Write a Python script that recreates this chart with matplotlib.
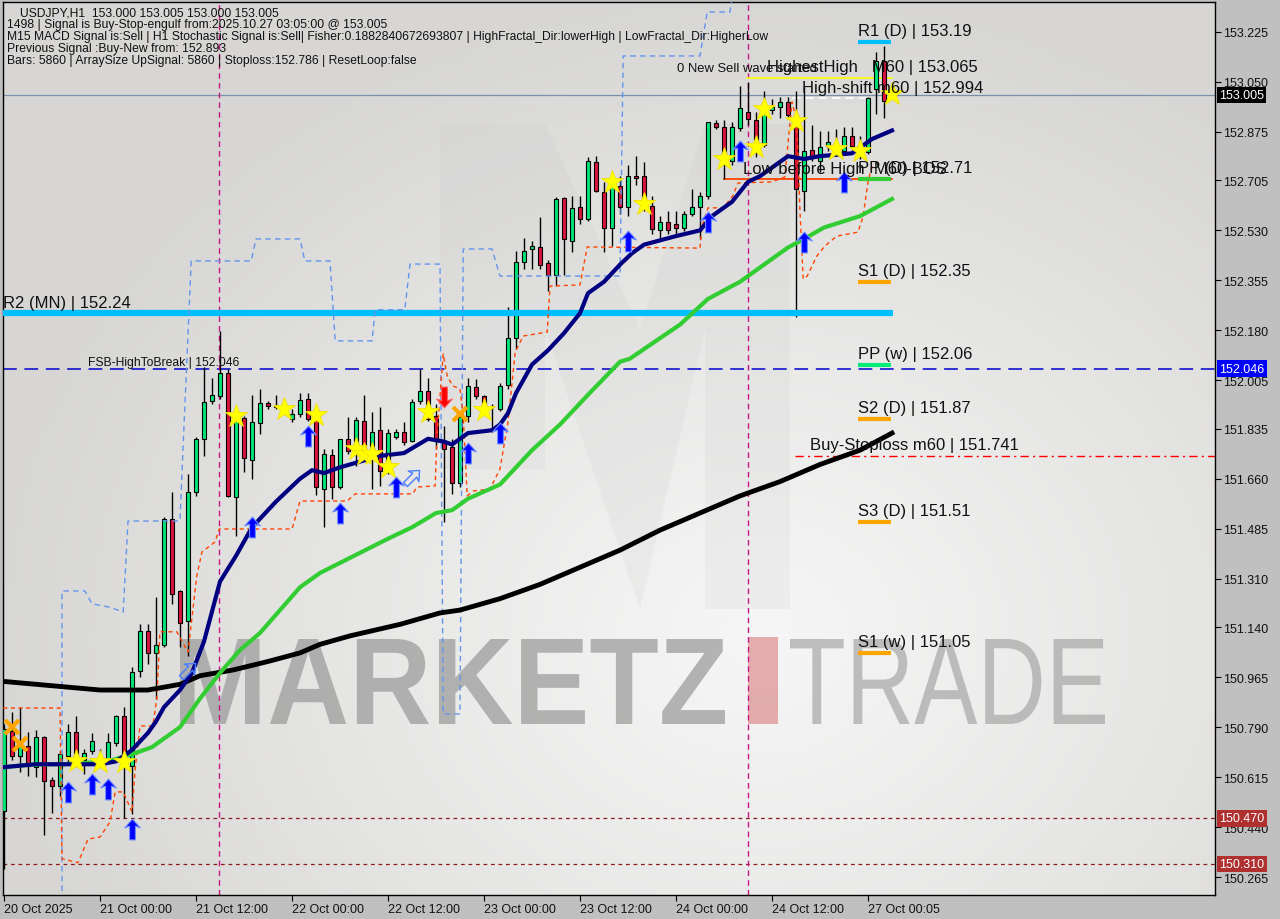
import numpy as np
import matplotlib
matplotlib.use('Agg')
import matplotlib.pyplot as plt
from matplotlib.path import Path
from matplotlib.patches import PathPatch, Rectangle, Polygon
from matplotlib.textpath import TextPath
from matplotlib.font_manager import FontProperties
from matplotlib.transforms import Affine2D, blended_transform_factory

plt.rcParams['font.family'] = ['Liberation Sans', 'DejaVu Sans']

# ---------------- data ----------------
opens = [150.497,150.777,150.689,150.724,150.651,150.756,150.605,150.584,150.689,150.773,
         150.676,150.707,150.676,150.679,150.735,150.829,150.654,150.987,151.127,151.050,
         151.078,151.519,151.267,151.162,151.614,151.800,151.933,151.950,152.031,151.596,
         151.873,151.726,151.856,151.926,151.915,151.912,151.870,151.887,151.940,151.870,
         151.624,151.743,151.631,151.800,151.757,151.863,151.747,151.831,151.698,151.807,
         151.824,151.792,151.933,151.968,151.880,151.789,151.771,151.645,151.880,151.982,
         151.950,151.912,151.905,151.989,152.153,152.419,152.465,152.472,152.416,152.374,
         152.644,152.493,152.612,152.570,152.770,152.665,152.539,152.686,152.612,152.721,
         152.721,152.616,152.532,152.560,152.553,152.539,152.588,152.612,152.651,152.906,
         152.892,152.773,152.889,152.945,152.917,152.829,152.952,152.962,152.980,152.934,
         152.668,152.812,152.773,152.826,152.815,152.808,152.861,152.808,152.805,153.025,
         153.123,153.000]
closes = [150.784,150.689,150.724,150.654,150.756,150.602,150.584,150.696,150.773,150.686,
          150.700,150.742,150.679,150.738,150.829,150.679,150.983,151.127,151.050,151.078,
          151.519,151.257,151.155,151.614,151.800,151.929,151.954,152.031,151.600,151.863,
          151.733,151.859,151.926,151.915,151.912,151.905,151.887,151.936,151.870,151.631,
          151.747,151.631,151.800,151.757,151.866,151.757,151.824,151.687,151.821,151.824,
          151.789,151.929,151.968,151.870,151.792,151.764,151.645,151.877,151.985,151.950,
          151.912,151.910,151.985,152.153,152.419,152.458,152.475,152.409,152.374,152.640,
          152.500,152.609,152.570,152.773,152.668,152.539,152.700,152.612,152.721,152.714,
          152.616,152.535,152.560,152.532,152.539,152.588,152.612,152.651,152.910,152.892,
          152.773,152.892,152.959,152.920,152.829,152.941,152.962,152.980,152.934,152.675,
          152.808,152.787,152.822,152.840,152.833,152.861,152.826,152.815,152.994,153.123,
          152.983,153.005]
highs = [150.800,150.843,150.861,150.773,150.781,150.760,150.616,150.707,150.801,150.829,
         150.714,150.770,150.714,150.770,150.832,150.861,151.001,151.152,151.152,151.246,
         151.526,151.614,151.270,151.677,151.807,152.052,152.013,152.178,152.045,151.887,
         151.880,151.954,151.975,151.933,151.954,151.940,151.905,151.960,151.960,151.877,
         151.764,151.764,151.800,151.877,151.877,151.954,151.894,151.912,151.835,151.835,
         151.859,151.940,152.045,152.013,151.922,151.845,151.800,151.887,152.013,152.010,
         151.954,151.922,151.996,152.262,152.458,152.504,152.493,152.577,152.426,152.647,
         152.647,152.651,152.651,152.787,152.791,152.700,152.710,152.721,152.759,152.791,
         152.770,152.651,152.581,152.598,152.598,152.598,152.675,152.665,152.910,152.917,
         152.917,152.910,153.036,153.050,152.945,153.018,152.990,152.997,152.997,153.018,
         153.032,152.899,152.878,152.878,152.885,152.892,152.892,152.861,152.997,153.155,
         153.176,153.005]
lows = [150.293,150.676,150.633,150.619,150.616,150.413,150.490,150.549,150.661,150.679,
        150.626,150.696,150.661,150.672,150.724,150.472,150.486,150.966,151.011,150.889,
        151.071,151.222,151.071,151.040,151.600,151.740,151.922,151.940,151.596,151.460,
        151.684,151.659,151.817,151.905,151.905,151.887,151.859,151.877,151.863,151.603,
        151.491,151.589,151.624,151.747,151.705,151.729,151.624,151.635,151.677,151.800,
        151.779,151.789,151.922,151.863,151.764,151.509,151.607,151.631,151.859,151.940,
        151.905,151.824,151.898,151.975,152.115,152.395,152.395,152.395,152.318,152.335,
        152.374,152.454,152.553,152.563,152.665,152.454,152.475,152.588,152.581,152.689,
        152.598,152.518,152.500,152.518,152.511,152.528,152.581,152.500,152.640,152.885,
        152.710,152.759,152.878,152.899,152.787,152.822,152.938,152.924,152.920,152.227,
        152.598,152.773,152.735,152.808,152.791,152.798,152.815,152.780,152.798,152.938,
        152.924,153.000]

# moving averages (bar index, price)
ma_fast_x = [0,4,8,12,14,15,16,18,19,20,22,23.5,25,27,29,31,34,37,38.5,40,42,47,50,53,55,56,58,61,62,63,64,66,68,70,72,73,75,77,78.5,80,84,87,88.5,91,93,94.5,98,100,102,106,108.5,111]
ma_fast_y = [150.65,150.66,150.66,150.66,150.67,150.69,150.71,150.77,150.81,150.86,150.92,150.98,151.09,151.30,151.39,151.49,151.58,151.66,151.69,151.68,151.70,151.74,151.75,151.80,151.79,151.78,151.82,151.83,151.85,151.89,151.96,152.06,152.11,152.17,152.24,152.31,152.35,152.41,152.45,152.48,152.51,152.53,152.58,152.63,152.70,152.72,152.79,152.78,152.79,152.80,152.85,152.88]
ma_mid_x = [0,4,7.5,13,16.5,18.5,22,24.5,27,29.5,32,37,39.5,48,51,54,56,58,62,66,69.5,73.2,77,78.2,84.5,88,92,94.5,98,100,102.5,107,111]
ma_mid_y = [150.65,150.66,150.66,150.67,150.70,150.72,150.79,150.89,150.98,151.06,151.12,151.28,151.33,151.45,151.49,151.54,151.55,151.59,151.64,151.76,151.85,151.96,152.07,152.08,152.20,152.29,152.35,152.40,152.47,152.50,152.54,152.58,152.64]
ma_slow_x = [0,4,8,12,14.5,18,22,24.5,28.6,33,37,39.5,43.3,49.5,54.5,57,62,67,72,77,82,87,92,97,102,107,111]
ma_slow_y = [150.95,150.94,150.93,150.92,150.92,150.92,150.94,150.97,150.99,151.02,151.05,151.08,151.11,151.15,151.19,151.20,151.24,151.29,151.35,151.41,151.48,151.54,151.60,151.65,151.71,151.76,151.82]

# trailing stop (orange dashed)
trail_x = [-0.1,7,7.25,9.25,10.5,12,13.25,13.9,14.9,16,16.4,17,18.6,19.1,19.5,21.6,23,24.1,24.75,26.4,26.9,36,37,42.9,43.9,51.1,51.6,53.9,54.1,54.9,55.4,56.1,57,57.4,57.9,58.6,60.75,62,63,63.9,64.9,67.9,68.25,72,72.9,87,87.25,88,89.9,91.1,91.75,96,97.6,98.5,99.1,99.5,99.9,100.4,101.6,102.6,104.1,106.75,107.4,108,108.5]
trail_y = [150.857,150.857,150.329,150.315,150.398,150.405,150.458,150.563,150.563,150.493,150.644,150.794,150.794,150.889,151.124,151.124,151.053,151.320,151.404,151.439,151.484,151.484,151.582,151.582,151.607,151.607,151.631,151.635,151.800,152.097,152.020,151.985,151.975,151.880,151.600,151.617,151.624,151.694,151.859,152.104,152.160,152.174,152.335,152.339,152.472,152.468,152.545,152.609,152.609,152.651,152.696,152.700,152.717,152.980,152.910,152.595,152.360,152.370,152.440,152.475,152.510,152.524,152.580,152.700,152.756]

# fractal channel (blue dashed)
chan_x = [7.25,7.25,10.1,11,13.25,14.9,15.5,22,22.4,23.4,30.9,31.5,37,37.6,40.75,41.4,46,46.4,50.1,50.75,54.5,54.9,57,57.4,61,62,77,77.4,87,87.9,90.75,91.1]
chan_y = [150.216,151.267,151.267,151.222,151.210,151.193,151.512,151.512,151.782,152.423,152.423,152.500,152.500,152.423,152.423,152.143,152.143,152.252,152.252,152.412,152.412,150.836,150.836,152.465,152.465,152.370,152.370,153.141,153.141,153.295,153.295,153.360]

# signals
star_x = [9,12,15,29,35,39,44,45,46,48,53,60,76,80,90,94,95,99,104,107,111]
star_y = [150.672,150.668,150.668,151.880,151.905,151.884,151.764,151.747,151.747,151.700,151.894,151.901,152.700,152.623,152.780,152.822,152.955,152.913,152.815,152.808,153.008]
up_x = [8,11,13,16,31,38,42,49,58,62,78,88,92,100,105]
up_y = [150.563,150.591,150.574,150.433,151.491,151.810,151.540,151.630,151.750,151.820,152.493,152.560,152.808,152.490,152.700]
xmark_x = [1,2,57]
xmark_y = [150.791,150.731,151.887]
down_x = [55]
down_y = [151.947]
hollow_x = [51,23]
hollow_y = [151.666,150.990]

# levels
r2_mn = 152.24
fsb_level = 152.046
last_price = 153.005
highest_high = 153.065
high_shift = 152.994
low_before_high = 152.71
buy_stoploss = 151.741
red_levels = [150.470, 150.310]
pivot_labels = ["R1 (D) | 153.19", "PP (D) | 152.71", "S1 (D) | 152.35", "PP (w) | 152.06",
                "S2 (D) | 151.87", "S3 (D) | 151.51", "S1 (w) | 151.05"]
pivot_values = [153.19, 152.71, 152.35, 152.06, 151.87, 151.51, 151.05]
pivot_colors = ['#00bfff', '#32cd32', '#ffa500', '#00ee77', '#ffa500', '#ffa500', '#ffa500']
day_lines = [26.9, 93]

ytick_vals = [153.225,153.050,152.875,152.705,152.530,152.355,152.180,152.005,151.835,151.660,
              151.485,151.310,151.140,150.965,150.790,150.615,150.440,150.265]
xtick_pos = [0,12,24,36,48,60,72,84,96,108]
xtick_labels = ["20 Oct 2025","21 Oct 00:00","21 Oct 12:00","22 Oct 00:00","22 Oct 12:00",
                "23 Oct 00:00","23 Oct 12:00","24 Oct 00:00","24 Oct 12:00","27 Oct 00:05"]

header = ["USDJPY,H1  153.000 153.005 153.000 153.005",
          "1498 | Signal is Buy-Stop-engulf from:2025.10.27 03:05:00 @ 153.005",
          "M15 MACD Signal is:Sell | H1 Stochastic Signal is:Sell| Fisher:0.1882840672693807 | HighFractal_Dir:lowerHigh | LowFractal_Dir:HigherLow",
          "Previous Signal :Buy-New from: 152.893",
          "Bars: 5860 | ArraySize UpSignal: 5860 | Stoploss:152.786 | ResetLoop:false"]

# ---------------- figure ----------------
W, H = 1280, 920
fig = plt.figure(figsize=(W/100, H/100), dpi=100, facecolor='#c0c0c0')
ax = fig.add_axes([3/W, (H-896)/H, (1215-3)/W, (896-3)/H])
XL = (-0.125, 151.375)
YL = (150.202, 153.330)
ax.set_xlim(*XL)
ax.set_ylim(*YL)

# background gradient
gy, gx = np.mgrid[0:90, 0:121]
px = gx / 120 * 1212 + 3
py = gy / 89 * 893 + 3
d = np.sqrt(((px - 760) / 760) ** 2 + ((py - 640) / 640) ** 2)
v = np.clip(d, 0, 1) ** 1.1
c_in = np.array([0.965, 0.965, 0.965])
c_out = np.array([0.845, 0.843, 0.835])
img = c_in[None, None, :] * (1 - v[..., None]) + c_out[None, None, :] * v[..., None]
ax.imshow(img, extent=(XL[0], XL[1], YL[0], YL[1]), origin='upper', aspect='auto',
          zorder=0, interpolation='bilinear')

# watermark logo (pixel space)
def pix_poly(pts, **kw):
    tr = Affine2D().scale(1, -1).translate(0, H)
    p = Polygon(pts, closed=True, transform=tr, **kw)
    ax.add_artist(p)

pix_poly([(440, 125), (545, 125), (640, 330), (705, 125), (790, 125), (790, 610), (705, 610),
          (705, 330), (640, 610), (545, 330), (545, 470), (440, 470)],
         fc='#bdbdbd', ec='none', alpha=0.13, zorder=0.5)

def text_box(s, x0, y0, x1, y1, weight, color, alpha):
    fp = FontProperties(family='Liberation Sans', weight=weight)
    tp = TextPath((0, 0), s, size=100, prop=fp)
    bb = tp.get_extents()
    sx = (x1 - x0) / bb.width
    sy = (y1 - y0) / bb.height
    tr = Affine2D().translate(-bb.x0, -bb.y0).scale(sx, sy).translate(x0, H - y1)
    ax.add_artist(PathPatch(tp, transform=tr, fc=color, ec='none', alpha=alpha, zorder=0.6))

text_box("MARKETZ", 180, 640, 725, 725, 'bold', '#9a9a9a', 0.72)
text_box("TRADE", 790, 640, 1105, 725, 'normal', '#a8a8a8', 0.72)
pix_poly([(748, 638), (778, 638), (778, 725), (748, 725)], fc='#e09a9a', ec='none', alpha=0.8, zorder=0.6)

# horizontal level lines
ax.axhline(last_price, color='#7890a8', lw=0.9, zorder=1.5)
ax.axhline(fsb_level, color='#0000cd', lw=1.1, dashes=(9, 5), zorder=1.5)
for lv in red_levels:
    ax.axhline(lv, color='#8b1a1a', lw=0.9, dashes=(3, 3), zorder=1.5)
for xv in day_lines:
    ax.axvline(xv, color='#c71585', lw=1, dashes=(4, 3), zorder=1.5)
ax.plot([98.9, XL[1]], [buy_stoploss] * 2, color='#ff0000', lw=1, dashes=(6, 3, 1.5, 3), zorder=2)
ax.plot([92.9, 111], [highest_high] * 2, color='#ffff00', lw=1.2, zorder=2)
ax.plot([98.5, 108.25], [high_shift] * 2, color='white', lw=1.2, dashes=(5, 3), zorder=2)
ax.plot([90, 111], [low_before_high] * 2, color='#ff4500', lw=1.3, zorder=2)

# candles
x = np.arange(len(opens))
o = np.array(opens); c = np.array(closes); hi = np.array(highs); lo = np.array(lows)
cols = np.where(c >= o, '#00e676', '#dc143c')
ax.vlines(x, lo, hi, color='black', lw=1, zorder=3)
hgt = np.maximum(np.abs(c - o), 0.0015)
ax.bar(x, hgt, bottom=np.minimum(o, c), width=0.62, color=cols, edgecolor='black', lw=0.8, zorder=4)

# R2 (MN) thick line
ax.plot([XL[0], 111.1], [r2_mn] * 2, color='#00bfff', lw=4.5, zorder=4.5, solid_capstyle='butt')

# bands and MAs
ax.plot(chan_x, chan_y, color='#6495ed', lw=1, dashes=(4, 3), zorder=4.6)
ax.plot(trail_x, trail_y, color='#ff4500', lw=1, dashes=(3, 2.5), zorder=4.6)
ax.plot(ma_slow_x, ma_slow_y, color='black', lw=3.5, zorder=5)
ax.plot(ma_mid_x, ma_mid_y, color='#32cd32', lw=3, zorder=5)
ax.plot(ma_fast_x, ma_fast_y, color='#000080', lw=3, zorder=5.1)

# markers
arrow = Path([(0, 1), (0.75, 0.15), (0.28, 0.32), (0.28, -1), (-0.28, -1), (-0.28, 0.32),
              (-0.75, 0.15), (0, 1)],
             [Path.MOVETO] + [Path.LINETO] * 6 + [Path.CLOSEPOLY])
arrow_dn = arrow.transformed(Affine2D().scale(1, -1))
arrow_tilt = arrow.transformed(Affine2D().rotate_deg(-45))
ax.plot(star_x, star_y, ls='none', marker='*', ms=17, mfc='#ffff00', mec='#f0e000', mew=0.6, zorder=6)
ax.plot(up_x, up_y, ls='none', marker=arrow, ms=15, mfc='#0000ff', mec='#6c8cff', mew=0.8, zorder=6)
ax.plot(down_x, down_y, ls='none', marker=arrow_dn, ms=15, mfc='#ff0000', mec='#ff6060', mew=0.8, zorder=6)
ax.plot(hollow_x, hollow_y, ls='none', marker=arrow_tilt, ms=13, mfc='none', mec='#4a7dff', mew=1, zorder=6)
ax.plot(xmark_x, xmark_y, ls='none', marker='x', ms=10, mec='#ffa500', mew=3, zorder=6)

# pivot labels
for lab, val, col in zip(pivot_labels, pivot_values, pivot_colors):
    ax.plot([106.75, 110.9], [val, val], color=col, lw=3, zorder=6, solid_capstyle='butt')
    ax.annotate(lab, (106.75, val), xytext=(0, 5), textcoords='offset points',
                fontsize=12, va='baseline', ha='left', color='#111111', zorder=7)

def lab_above(s, xi, val, fs=12):
    ax.annotate(s, (xi, val), xytext=(0, 4.5), textcoords='offset points',
                fontsize=fs, va='baseline', ha='left', color='#111111', zorder=7)

lab_above("HighestHigh   M60 | 153.065", 95.4, highest_high)
lab_above("High-shift m60 | 152.994", 99.75, high_shift)
lab_above("Low before High  M60-BOS", 92.4, low_before_high)
lab_above("Buy-Stoploss m60 | 151.741", 100.75, buy_stoploss)
lab_above("R2 (MN) | 152.24", -0.1, r2_mn)
lab_above("0 New Sell wave started", 84.1, highest_high, fs=9.4)
ax.annotate("FSB-HighToBreak | 152.046", (10.5, fsb_level), xytext=(0, 2.5), textcoords='offset points',
            fontsize=8.7, va='baseline', ha='left', color='#111111', zorder=7)

# axes styling
ax.yaxis.tick_right()
ax.set_yticks(ytick_vals)
ax.set_yticklabels([f"{v:.3f}" for v in ytick_vals], fontsize=9, color='#111111')
ax.set_xticks(xtick_pos)
ax.set_xticklabels(xtick_labels, fontsize=9, color='#111111', ha='left')
ax.tick_params(axis='both', direction='out', length=4, width=0.8, color='black', pad=2)
for sp in ax.spines.values():
    sp.set_color('black')
    sp.set_linewidth(1)

blend = blended_transform_factory(ax.transAxes, ax.transData)
for val, fc in [(last_price, 'black'), (fsb_level, '#0000ff'), (red_levels[0], '#b03030'), (red_levels[1], '#b03030')]:
    ax.annotate(f"{val:.3f}", (1.0, val), xycoords=blend, xytext=(3, 0), textcoords='offset points',
                fontsize=9, color='white', va='center', ha='left', annotation_clip=False, zorder=8,
                bbox=dict(boxstyle='square,pad=0.18', fc=fc, ec='none'))

# header text
ys = [13, 25, 37, 49, 61]
xs = [20, 7, 7, 7, 7]
for s, yy, xx in zip(header, ys, xs):
    fig.text(xx / W, 1 - yy / H, s, fontsize=8.75, color='#111111', va='center', ha='left')

fig.savefig('out.png', dpi=100, facecolor=fig.get_facecolor())
